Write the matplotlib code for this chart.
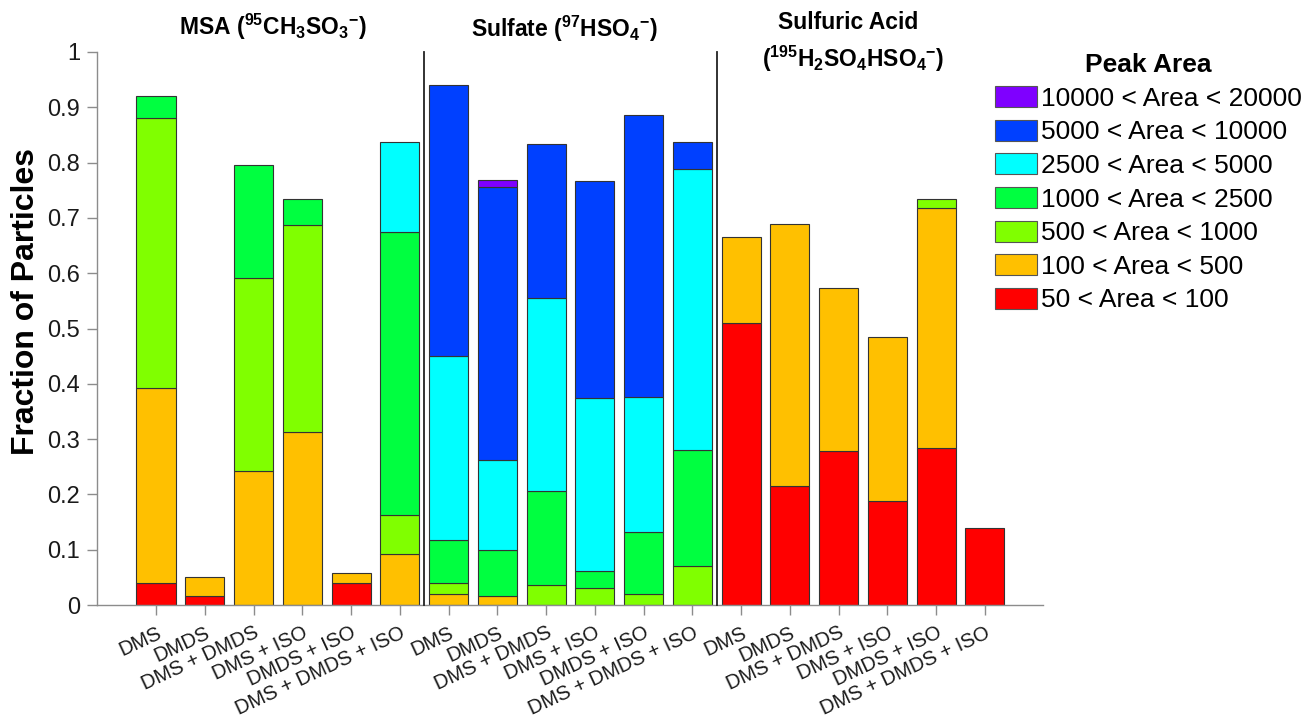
import numpy as np
import matplotlib
matplotlib.use("Agg")
import matplotlib.pyplot as plt
from matplotlib.patches import Patch
from matplotlib.transforms import ScaledTranslation

plt.rcParams['font.family'] = ['Liberation Sans', 'DejaVu Sans']
plt.rcParams['mathtext.fontset'] = 'custom'
plt.rcParams['mathtext.rm'] = 'Liberation Sans'
plt.rcParams['mathtext.bf'] = 'Liberation Sans:bold'
plt.rcParams['mathtext.it'] = 'Liberation Sans:italic'

# ---- data ----
conditions = ["DMS", "DMDS", "DMS + DMDS", "DMS + ISO", "DMDS + ISO", "DMS + DMDS + ISO"]
groups = ["MSA", "Sulfate", "Sulfuric Acid"]
tick_labels = conditions * 3

bins = ["50 < Area < 100", "100 < Area < 500", "500 < Area < 1000",
        "1000 < Area < 2500", "2500 < Area < 5000", "5000 < Area < 10000",
        "10000 < Area < 20000"]
bin_colors = ["#FF0000", "#FFC000", "#80FF00", "#00FF40", "#00FFFF", "#0040FF", "#7F00FF"]

area_50_100 = [0.040, 0.017, 0.000, 0.000, 0.039, 0.000,
               0.000, 0.000, 0.000, 0.000, 0.000, 0.000,
               0.510, 0.215, 0.278, 0.188, 0.284, 0.139]
area_100_500 = [0.353, 0.033, 0.242, 0.312, 0.018, 0.093,
                0.020, 0.017, 0.000, 0.000, 0.000, 0.000,
                0.156, 0.474, 0.296, 0.297, 0.433, 0.000]
area_500_1000 = [0.487, 0.000, 0.350, 0.376, 0.000, 0.069,
                 0.020, 0.000, 0.037, 0.031, 0.019, 0.070,
                 0.000, 0.000, 0.000, 0.000, 0.018, 0.000]
area_1000_2500 = [0.040, 0.000, 0.203, 0.046, 0.000, 0.512,
                  0.078, 0.082, 0.169, 0.031, 0.113, 0.211,
                  0.000, 0.000, 0.000, 0.000, 0.000, 0.000]
area_2500_5000 = [0.000, 0.000, 0.000, 0.000, 0.000, 0.163,
                  0.333, 0.163, 0.350, 0.312, 0.245, 0.508,
                  0.000, 0.000, 0.000, 0.000, 0.000, 0.000]
area_5000_10000 = [0.000, 0.000, 0.000, 0.000, 0.000, 0.000,
                   0.489, 0.493, 0.277, 0.392, 0.509, 0.048,
                   0.000, 0.000, 0.000, 0.000, 0.000, 0.000]
area_10000_20000 = [0.000, 0.000, 0.000, 0.000, 0.000, 0.000,
                    0.000, 0.014, 0.000, 0.000, 0.000, 0.000,
                    0.000, 0.000, 0.000, 0.000, 0.000, 0.000]

series = [area_50_100, area_100_500, area_500_1000, area_1000_2500,
          area_2500_5000, area_5000_10000, area_10000_20000]

# ---- figure ----
fig = plt.figure(figsize=(13.14, 7.24), dpi=100)
ax = fig.add_axes([97/1314, 119/724, (1043-97)/1314, 553/724])

x = np.arange(1, len(tick_labels) + 1)
bottom = np.zeros(len(x))
for vals, col in zip(series, bin_colors):
    h = np.array(vals)
    lw = np.where(h > 0, 0.8, 0.0)
    ax.bar(x, h, width=0.8, bottom=bottom, color=col, edgecolor='#333333',
           linewidth=lw, zorder=2)
    bottom += h

# group separators
for xs in [6.5, 12.5]:
    ax.plot([xs, xs], [0, 1.0], color='#222222', lw=1.3, zorder=3, clip_on=False)

ax.set_xlim(-0.21, 19.19)
ax.set_ylim(0, 1)
ax.set_yticks(np.arange(0, 1.01, 0.1))
ax.set_yticklabels(["0", "0.1", "0.2", "0.3", "0.4", "0.5", "0.6", "0.7", "0.8", "0.9", "1"])
ax.set_xticks(x)
ax.set_xticklabels(tick_labels, rotation=25, ha='right', va='top',
                   rotation_mode='anchor', fontsize=14.5)
for lab in ax.get_xticklabels():
    lab.set_transform(lab.get_transform() + ScaledTranslation(4/100, -4/100, fig.dpi_scale_trans))

for s in ['top', 'right']:
    ax.spines[s].set_visible(False)
for s in ['left', 'bottom']:
    ax.spines[s].set_color('#8c8c8c')
    ax.spines[s].set_linewidth(1.0)
ax.tick_params(axis='both', colors='#8c8c8c', length=7, width=1.0, labelcolor='#1a1a1a')
ax.tick_params(axis='y', labelsize=17, pad=5)
ax.tick_params(axis='x', pad=6)

ax.set_ylabel("Fraction of Particles", fontsize=23, fontweight='bold')
ax.yaxis.set_label_coords(-0.059, 0.548)

# group titles
ax.text(3.4, 1.031,
        r"MSA (${}^{\mathbf{95}}\mathbf{CH_{3}SO_{3}}{}^{\mathbf{-}}$)",
        fontsize=16.5, fontweight='bold', ha='center', va='baseline')
ax.text(9.37, 1.028,
        r"Sulfate (${}^{\mathbf{97}}\mathbf{HSO_{4}}{}^{\mathbf{-}}$)",
        fontsize=16.5, fontweight='bold', ha='center', va='baseline')
ax.text(15.2, 1.042, "Sulfuric Acid", fontsize=16.5, fontweight='bold',
        ha='center', va='baseline')
ax.text(15.3, 0.973,
        r"(${}^{\mathbf{195}}\mathbf{H_{2}SO_{4}HSO_{4}}{}^{\mathbf{-}}$)",
        fontsize=16.5, fontweight='bold', ha='center', va='baseline')

# legend
handles = [Patch(facecolor=c, edgecolor='#555555', linewidth=0.8, label=b)
           for b, c in zip(bins, bin_colors)][::-1]
leg = fig.legend(handles=handles, loc='upper left',
                 bbox_to_anchor=(995/1314, 1 - 53/724), frameon=False,
                 fontsize=19, title="Peak Area",
                 title_fontproperties={'weight': 'bold', 'size': 19},
                 handlelength=1.6, handleheight=0.85, handletextpad=0.15,
                 labelspacing=0.34, borderpad=0.0, borderaxespad=0.0)

fig.savefig("out.png", dpi=100)
